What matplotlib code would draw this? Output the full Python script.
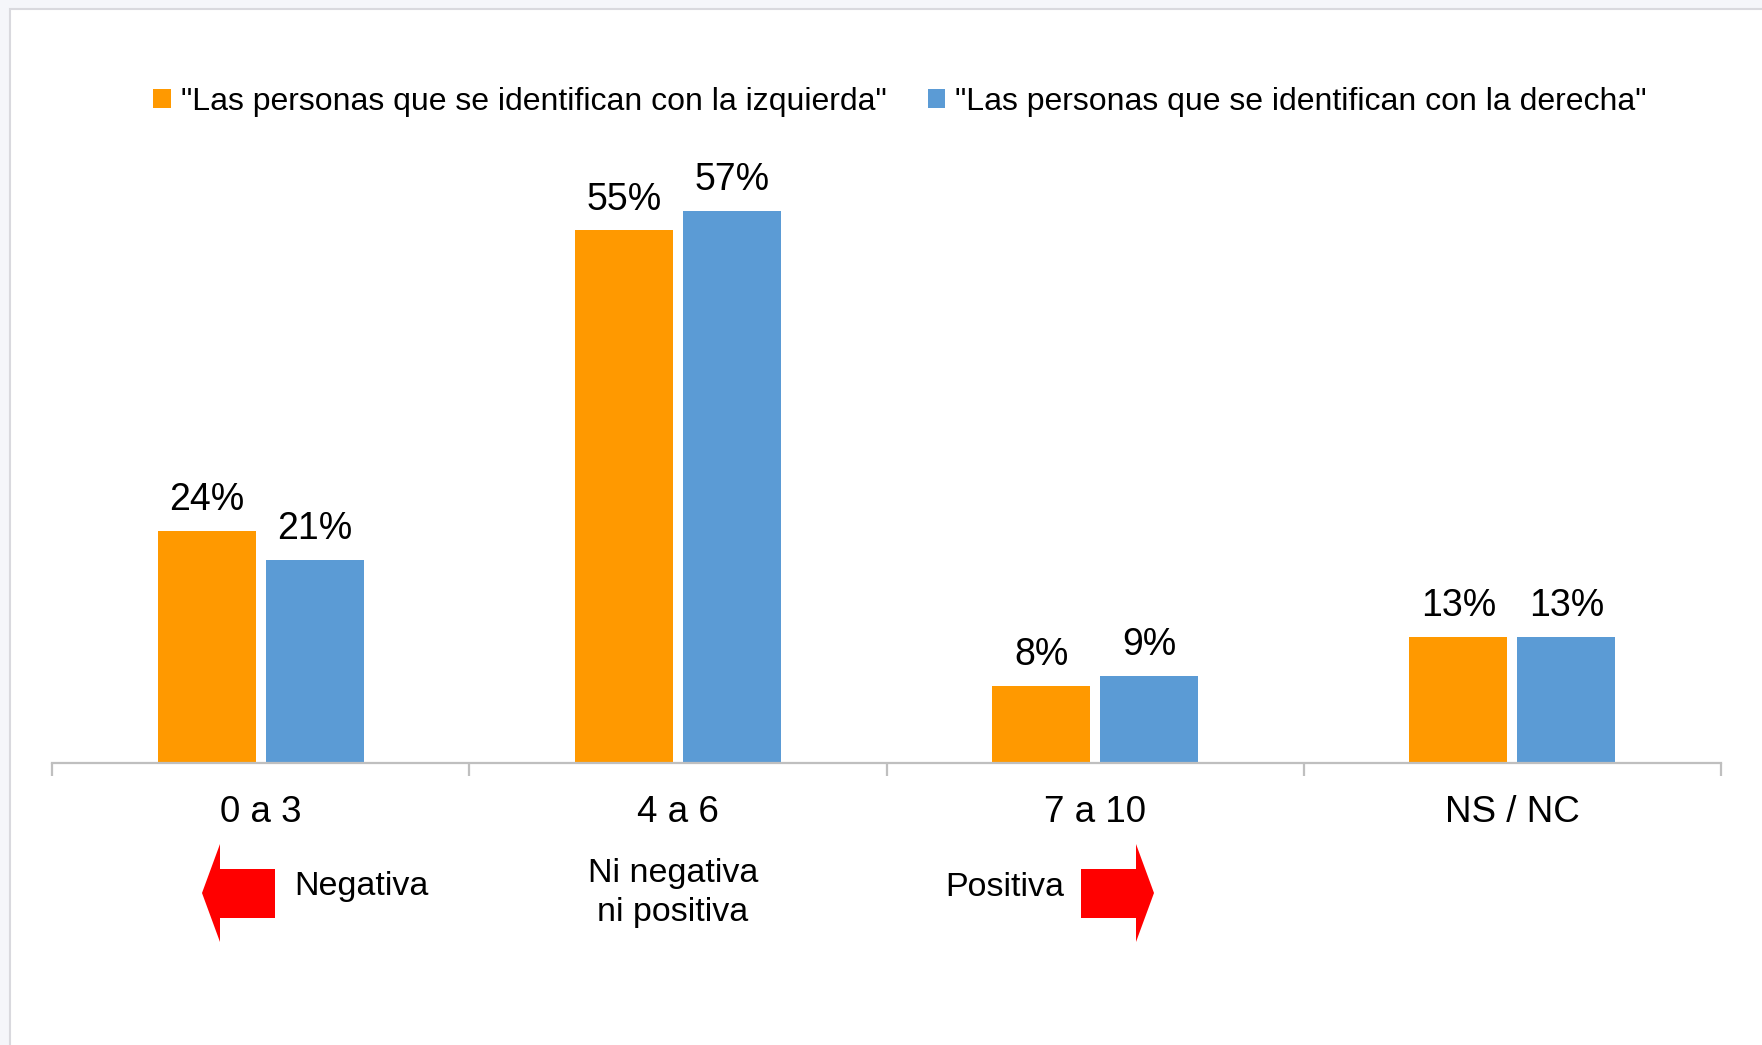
import matplotlib
matplotlib.use("Agg")
import matplotlib.pyplot as plt
from matplotlib.patches import Polygon, Rectangle
from matplotlib import transforms
import numpy as np

plt.rcParams['font.family'] = ['Liberation Sans', 'DejaVu Sans']

categories = ["0 a 3", "4 a 6", "7 a 10", "NS / NC"]
izquierda = [24, 55, 8, 13]
derecha = [21, 57, 9, 13]
series_names = ['"Las personas que se identifican con la izquierda"',
                '"Las personas que se identifican con la derecha"']
colors = ["#FF9900", "#5B9BD5"]

W, H = 1762, 1045
fig = plt.figure(figsize=(W / 100, H / 100), dpi=100, facecolor="#f5f6fa")


def fx(px):
    return px / W


def fy(py):
    return 1 - py / H


# white panel with thin grey border
fig.patches.append(Rectangle((fx(10), -0.01), 1 - fx(10) + 0.01, fy(9) + 0.01, transform=fig.transFigure,
                             facecolor="white", edgecolor="#d9d9de", linewidth=1.5, zorder=-5))

ax_left, ax_right, ax_bottom, ax_top = 52, 1721, 763, 182
ax = fig.add_axes([fx(ax_left), fy(ax_bottom), fx(ax_right - ax_left), (ax_bottom - ax_top) / H])
ax.set_facecolor("none")
ax.set_zorder(2)

x = np.arange(len(categories))
bw = 0.235
off = 0.1295
b1 = ax.bar(x - off, izquierda, bw, color=colors[0], label=series_names[0])
b2 = ax.bar(x + off, derecha, bw, color=colors[1], label=series_names[1])

for bars, vals in ((b1, izquierda), (b2, derecha)):
    for rect, v in zip(bars, vals):
        ax.annotate(f"{v}%", (rect.get_x() + rect.get_width() / 2, v),
                    xytext=(0, 15), textcoords="offset points",
                    ha="center", va="baseline", fontsize=27)

ax.set_xlim(-0.5, len(categories) - 0.5)
ax.set_ylim(0, 60)
ax.set_yticks([])
for s in ("top", "right", "left"):
    ax.spines[s].set_visible(False)
ax.spines["bottom"].set_color("#bfbfbf")
ax.spines["bottom"].set_linewidth(1.6)

ax.set_xticks(np.arange(len(categories) + 1) - 0.5, minor=True)
ax.tick_params(axis="x", which="minor", length=9, width=1.6, color="#bfbfbf")
ax.set_xticks(x)
ax.set_xticklabels([])
ax.tick_params(axis="x", which="major", length=0)

lbl_tr = transforms.blended_transform_factory(ax.transData, fig.transFigure)
for xi, c in zip(x, categories):
    ax.text(xi, fy(822), c, transform=lbl_tr, ha="center", va="baseline", fontsize=26.5)

leg = fig.legend(handles=[b1, b2], loc="center", bbox_to_anchor=(fx(900), fy(102)),
                 ncol=2, frameon=False, fontsize=23, handlelength=0.55, handleheight=0.55,
                 handletextpad=0.3, columnspacing=1.3, borderpad=0)

# direction arrows below the categories
left_arrow = [(202, 893), (220, 844), (220, 869), (275, 869), (275, 918), (220, 918), (220, 942)]
right_arrow = [(1154, 893), (1136, 844), (1136, 869), (1081, 869), (1081, 918), (1136, 918), (1136, 942)]
for pts in (left_arrow, right_arrow):
    fig.patches.append(Polygon([(fx(a), fy(b)) for a, b in pts], closed=True,
                               transform=fig.transFigure, facecolor="#FF0000", edgecolor="none"))

fig.text(fx(294), fy(887), "Negativa", ha="left", va="center", fontsize=24.5)
fig.text(fx(1005), fy(888), "Positiva", ha="center", va="center", fontsize=24.5)
fig.text(fx(673), fy(893), "Ni negativa\nni positiva", ha="center", va="center",
         fontsize=24.5, linespacing=1.35)

fig.savefig("out.png", dpi=100, facecolor=fig.get_facecolor())
